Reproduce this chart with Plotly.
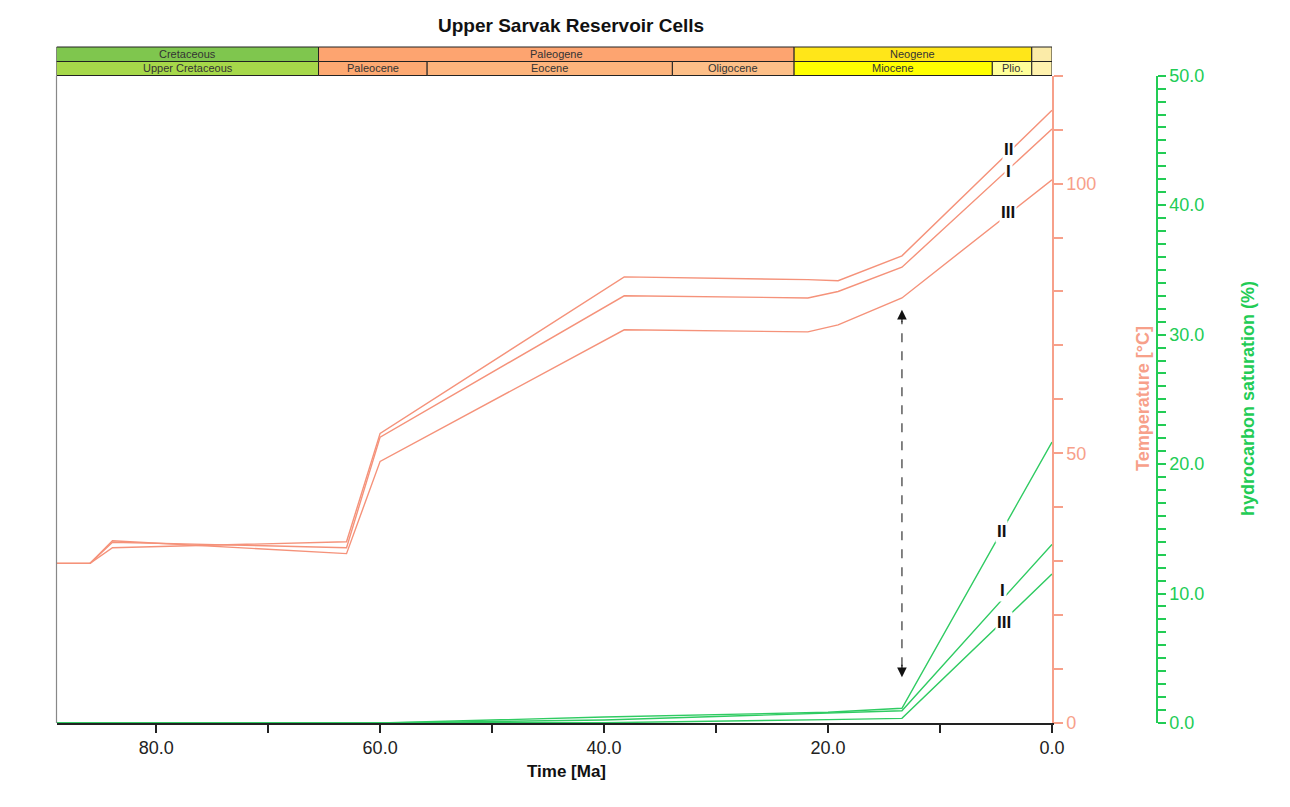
import plotly.graph_objects as go

# ---------------- data ----------------
time_temp = [89.0, 85.9, 83.9, 63.0, 60.0, 38.2, 21.8, 19.1, 13.4, 0.0]
temp_I   = [29.6, 29.6, 33.5, 32.5, 53.0, 79.2, 78.8, 80.0, 84.5, 110.1]
temp_II  = [29.6, 29.6, 32.5, 33.6, 53.7, 82.7, 82.2, 82.0, 86.6, 113.6]
temp_III = [29.6, 29.6, 33.8, 31.4, 48.5, 72.9, 72.5, 73.8, 78.8, 100.7]

time_sat = [89.0, 60.0, 40.0, 20.0, 13.4, 0.0]
sat_I   = [0.0, 0.0, 0.23, 0.75, 0.95, 13.8]
sat_II  = [0.0, 0.0, 0.46, 0.83, 1.14, 21.7]
sat_III = [0.0, 0.0, 0.02, 0.26, 0.36, 11.5]

periods = ["Cretaceous", "Paleogene", "Neogene", ""]
period_bounds = [(88.9, 65.5), (65.5, 23.03), (23.03, 1.806), (1.806, 0.0)]
period_colors = ["#7FC64E", "#FDA470", "#FFE619", "#FBEBA8"]
epochs = ["Upper Cretaceous", "Paleocene", "Eocene", "Oligocene", "Miocene", "Plio.", ""]
epoch_bounds = [(88.9, 65.5), (65.5, 55.8), (55.8, 33.9), (33.9, 23.03), (23.03, 5.33), (5.33, 1.806), (1.806, 0.0)]
epoch_colors = ["#A6D84A", "#FDA972", "#FDB47C", "#FDBF88", "#FFFF00", "#FFFF99", "#FFF2AE"]

x_ticks = [80, 70, 60, 50, 40, 30, 20, 10, 0]
temp_ticks = list(range(0, 121, 10))
sat_ticks = list(range(0, 51, 1))

# ---------------- style ----------------
OFF = 8  # page body margin
W, H = 1290 - OFF, 807 - OFF
TEMP_LINE = "#F5927A"
TEMP_AXIS = "#F7A08A"
GREEN_LINE = "#2FCB62"
GREEN_AXIS = "#22CC55"
FONT = "Liberation Sans, Arial, sans-serif"


def px_x(p):
    return (p - OFF) / W


def py(p):
    return 1 - (p - OFF) / H


xdom = [px_x(56.5), px_x(1052)]
ydom = [py(723), py(75.7)]

fig = go.Figure()
for name, t in [("I", temp_I), ("II", temp_II), ("III", temp_III)]:
    fig.add_trace(go.Scatter(x=time_temp, y=t, mode="lines", name="T " + name,
                             line=dict(color=TEMP_LINE, width=1.4), yaxis="y"))
for name, s in [("I", sat_I), ("II", sat_II), ("III", sat_III)]:
    fig.add_trace(go.Scatter(x=time_sat, y=s, mode="lines", name="S " + name,
                             line=dict(color=GREEN_LINE, width=1.4), yaxis="y2"))

shapes = []
annotations = []

# header bars
r1 = (47, 61.5)
r2 = (61.5, 75.5)
for lab, (a, b), c in zip(periods, period_bounds, period_colors):
    shapes.append(dict(type="rect", xref="x", yref="paper", x0=a, x1=b, y0=py(r1[1]), y1=py(r1[0]),
                       fillcolor=c, line=dict(color="#222", width=1), layer="above"))
    if lab:
        annotations.append(dict(x=(a + b) / 2, y=py((r1[0] + r1[1]) / 2), xref="x", yref="paper",
                                xanchor="center", yanchor="middle",
                                text=lab, showarrow=False, font=dict(size=11, color="#333", family=FONT)))
for lab, (a, b), c in zip(epochs, epoch_bounds, epoch_colors):
    shapes.append(dict(type="rect", xref="x", yref="paper", x0=a, x1=b, y0=py(r2[1]), y1=py(r2[0]),
                       fillcolor=c, line=dict(color="#222", width=1), layer="above"))
    if lab:
        annotations.append(dict(x=(a + b) / 2, y=py((r2[0] + r2[1]) / 2), xref="x", yref="paper",
                                xanchor="center", yanchor="middle",
                                text=lab, showarrow=False, font=dict(size=11, color="#333", family=FONT)))

# left frame line
shapes.append(dict(type="line", xref="paper", yref="paper", x0=xdom[0], x1=xdom[0],
                   y0=ydom[0], y1=ydom[1], line=dict(color="#888", width=1.2)))

# dashed double arrow
arrow_x = 13.4
shapes.append(dict(type="line", xref="x", yref="y", x0=arrow_x, x1=arrow_x, y0=10.5, y1=74.5,
                   line=dict(color="#333", width=1.2, dash="dash")))
annotations.append(dict(x=arrow_x, y=76.6, xref="x", yref="y", ax=0, ay=14, text="", showarrow=True,
                        arrowhead=2, arrowsize=1.6, arrowwidth=1.2, arrowcolor="#111"))
annotations.append(dict(x=arrow_x, y=8.5, xref="x", yref="y", ax=0, ay=-14, text="", showarrow=True,
                        arrowhead=2, arrowsize=1.6, arrowwidth=1.2, arrowcolor="#111"))

# line labels
lab_font = dict(size=17, color="#111", family=FONT)
for txt, x, y in [("<b>II</b>", 3.9, 106.3), ("<b>I</b>", 3.9, 102.2), ("<b>III</b>", 3.9, 94.6)]:
    annotations.append(dict(x=x, y=y, xref="x", yref="y", text=txt, showarrow=False, font=lab_font,
                            xanchor="center", yanchor="middle", bgcolor="white", borderpad=1))
for txt, x, y in [("<b>II</b>", 4.5, 14.8), ("<b>I</b>", 4.4, 10.2), ("<b>III</b>", 4.3, 7.8)]:
    annotations.append(dict(x=x, y=y, xref="x", yref="y2", text=txt, showarrow=False, font=lab_font,
                            xanchor="center", yanchor="middle", bgcolor="white", borderpad=1))


def paper_text(txt, xpx, ypx, size, color, angle=0):
    annotations.append(dict(x=px_x(xpx), y=py(ypx), xref="paper", yref="paper", text=txt,
                            xanchor="center", yanchor="middle", textangle=angle,
                            showarrow=False, font=dict(size=size, color=color, family=FONT)))


paper_text("<b>Upper Sarvak Reservoir Cells</b>", 571, 25, 19, "#111")
paper_text("<b>Time [Ma]</b>", 566, 771, 17, "#111")
paper_text("<b>Temperature [°C]</b>", 1143, 399, 18, TEMP_AXIS, -90)
paper_text("<b>hydrocarbon saturation (%)</b>", 1248, 399, 18, GREEN_AXIS, -90)

fig.update_layout(
    width=W, height=H, autosize=False,
    margin=dict(l=0, r=0, t=0, b=0, pad=0),
    paper_bgcolor="white", plot_bgcolor="white",
    showlegend=False,
    shapes=shapes, annotations=annotations,
    font=dict(family=FONT),
    xaxis=dict(domain=xdom, range=[88.9, 0], showgrid=False, zeroline=False, automargin=False,
               showline=True, linecolor="#222", linewidth=1.5,
               ticks="outside", ticklen=8, tickcolor="#222", tickwidth=1.5,
               tickvals=x_ticks,
               ticktext=[f"{v:.1f}" if v % 20 == 0 else "" for v in x_ticks],
               tickfont=dict(size=18, color="#222", family=FONT)),
    yaxis=dict(domain=ydom, range=[0, 120], side="right", anchor="x", automargin=False,
               showgrid=False, zeroline=False, showline=True, linecolor=TEMP_AXIS, linewidth=1.5,
               ticks="outside", ticklen=9, tickcolor=TEMP_AXIS, tickwidth=1.5,
               tickvals=temp_ticks,
               ticktext=[str(v) if v % 50 == 0 else "" for v in temp_ticks],
               tickfont=dict(size=18, color=TEMP_AXIS, family=FONT)),
    yaxis2=dict(domain=ydom, range=[0, 50], overlaying="y", anchor="free", position=px_x(1157), side="right",
                automargin=False,
                showgrid=False, zeroline=False, showline=True, linecolor=GREEN_AXIS, linewidth=1.5,
                ticks="outside", ticklen=8, tickcolor=GREEN_AXIS, tickwidth=1.5,
                tickvals=sat_ticks,
                ticktext=[f"{v:.1f}" if v % 10 == 0 else "" for v in sat_ticks],
                tickfont=dict(size=18, color=GREEN_AXIS, family=FONT)),
)

fig.write_html("out.html")
